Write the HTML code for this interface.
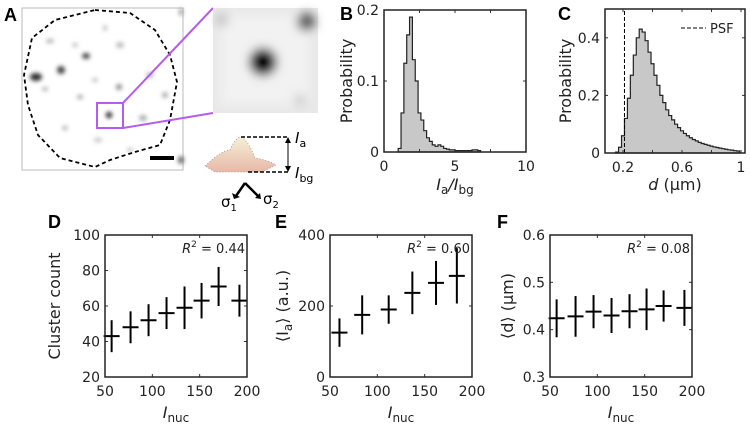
<!DOCTYPE html>
<html><head><meta charset="utf-8"><style>
body{margin:0;background:#fff;}
svg{display:block;font-family:"DejaVu Sans","Liberation Sans",sans-serif;}
</style></head><body>
<svg id="fig" width="750" height="427" viewBox="0 0 750 427" xmlns="http://www.w3.org/2000/svg">
<defs>
<filter id="blur2" x="-50%" y="-50%" width="200%" height="200%"><feGaussianBlur stdDeviation="2"/></filter>
<filter id="blur5" x="-50%" y="-50%" width="200%" height="200%"><feGaussianBlur stdDeviation="5"/></filter>
<linearGradient id="surf" x1="0" y1="0" x2="0" y2="1"><stop offset="0" stop-color="#f4f0d8"/><stop offset="1" stop-color="#e8b8a8"/></linearGradient>
</defs>
<g>
<text x="4" y="21" font-size="18" font-weight="bold" font-family="Liberation Sans">A</text>
<rect x="22" y="8" width="161" height="162" fill="#fff" stroke="#bbb" stroke-width="1"/>
<g filter="url(#blur2)" fill="#555">
<ellipse cx="36" cy="77" rx="6" ry="4" fill="#333"/><ellipse cx="61" cy="70" rx="4" ry="4" fill="#444"/>
<ellipse cx="86" cy="56" rx="4" ry="3" fill="#444"/><ellipse cx="109" cy="115" rx="3" ry="3" fill="#111"/>
<ellipse cx="50" cy="41" rx="4" ry="2" fill="#aaa"/><ellipse cx="80" cy="97" rx="3" ry="2" fill="#999"/>
<ellipse cx="119" cy="87" rx="3" ry="3" fill="#888"/><ellipse cx="45" cy="89" rx="3" ry="2" fill="#aaa"/>
<ellipse cx="65" cy="128" rx="3" ry="2" fill="#aaa"/><ellipse cx="143" cy="118" rx="4" ry="3" fill="#aaa"/>
<ellipse cx="165" cy="95" rx="3" ry="3" fill="#aaa"/><ellipse cx="105" cy="28" rx="2" ry="3" fill="#bbb"/>
<ellipse cx="120" cy="45" rx="4" ry="3" fill="#bbb"/><ellipse cx="98" cy="140" rx="4" ry="2" fill="#bbb"/>
<ellipse cx="150" cy="75" rx="4" ry="3" fill="#bbb"/><ellipse cx="75" cy="45" rx="3" ry="2" fill="#bbb"/>
<ellipse cx="130" cy="150" rx="3" ry="2" fill="#bbb"/><ellipse cx="181" cy="160" rx="3" ry="4" fill="#666"/>
<ellipse cx="181" cy="12" rx="2" ry="4" fill="#999"/><ellipse cx="95" cy="80" rx="3" ry="2" fill="#bbb"/>
</g>
<path d="M95 10 L130 13 L155 30 L170 55 L177 82 L170 120 L160 145 L135 152 L110 160 L95 167 L60 158 L38 135 L28 105 L24 75 L32 38 L55 20 Z" fill="none" stroke="#000" stroke-width="1.8" stroke-dasharray="4,3"/>
<rect x="150" y="156" width="24" height="4" fill="#000"/>
<rect x="97" y="103" width="26" height="25" fill="none" stroke="#b45cf0" stroke-width="2"/>
<line x1="123" y1="103" x2="213" y2="8" stroke="#b45cf0" stroke-width="2"/>
<line x1="123" y1="128" x2="213" y2="113" stroke="#b45cf0" stroke-width="2"/>
<g>
<rect x="213" y="8" width="105" height="105" fill="#e8e8e8"/>
<g filter="url(#blur5)"><rect x="220" y="15" width="90" height="90" fill="#f2f2f2"/>
<circle cx="263" cy="62" r="14" fill="#000"/><circle cx="306" cy="22" r="9" fill="#555"/><circle cx="222" cy="20" r="6" fill="#bbb"/><circle cx="300" cy="100" r="6" fill="#ccc"/></g>
</g>
<g>
<path d="M205 166 Q222 150 230 150 Q236 137 241 137 Q248 140 255 158 Q268 160 276 165 L262 172 L215 172 Z" fill="url(#surf)" stroke="#a88" stroke-width="0.8" stroke-dasharray="1,2"/>
<line x1="241" y1="137" x2="288" y2="137" stroke="#000" stroke-width="1.5" stroke-dasharray="4,2"/>
<line x1="248" y1="172" x2="288" y2="172" stroke="#000" stroke-width="1.5" stroke-dasharray="4,2"/>
<line x1="288" y1="140" x2="288" y2="169" stroke="#000" stroke-width="1"/>
<path d="M285 143 L288 137 L291 143 Z M285 166 L288 172 L291 166 Z" fill="#000"/>
<text x="295" y="143" font-size="15" font-style="italic">I<tspan font-size="11" dy="4" font-style="normal">a</tspan></text>
<text x="295" y="178" font-size="15" font-style="italic">I<tspan font-size="11" dy="4" font-style="normal">bg</tspan></text>
<path d="M245 183 L236 196 M245 183 L258 196" stroke="#000" stroke-width="2.5" fill="none"/>
<path d="M232 193 L234 199 L240 197 Z M255 198 L261 199 L260 193 Z" fill="#000"/>
<text x="221" y="207" font-size="15">σ<tspan font-size="10" dy="4">1</tspan></text>
<text x="263" y="204" font-size="15">σ<tspan font-size="10" dy="4">2</tspan></text>
</g>
</g>
<g id="charts"></g>
</svg>
<script>
const bEdges = [1.0,1.2,1.4,1.6,1.8,2.0,2.2,2.4,2.6,2.8,3.0,3.2,3.4,3.6,3.8,4.0,4.2,4.4,4.6,4.8,5.0,5.4,5.8,6.2,6.6];
const bProb  = [0.005,0.055,0.125,0.165,0.19,0.13,0.10,0.055,0.045,0.03,0.02,0.015,0.01,0.008,0.01,0.008,0.005,0.004,0.003,0.003,0.002,0.002,0.002,0.003,0.002];
const bBinW = 0.2;
const cCenters = [0.16,0.18,0.20,0.22,0.24,0.26,0.28,0.30,0.32,0.34,0.36,0.38,0.40,0.42,0.44,0.46,0.48,0.50,0.52,0.54,0.56,0.58,0.60,0.62,0.64,0.66,0.68,0.70,0.72,0.74,0.76,0.78,0.80,0.82,0.84,0.86,0.88,0.90,0.92,0.94,0.96,0.98];
const cProb = [0.003,0.02,0.06,0.12,0.19,0.27,0.34,0.40,0.43,0.42,0.39,0.35,0.31,0.27,0.235,0.20,0.175,0.15,0.13,0.115,0.10,0.088,0.077,0.068,0.06,0.053,0.047,0.042,0.037,0.033,0.03,0.027,0.024,0.021,0.019,0.017,0.015,0.013,0.011,0.01,0.008,0.007];
const psfValue = 0.21;
const dX = [57,77,96,115,134,152,170,192];
const dY = [43,48,52,56,59,63,71,63];
const dErr = [9,9,9,9,12,10,11,9];
const eX = [60,84,112,137,162,184];
const eY = [125,175,190,237,265,285];
const eErr = [40,55,40,60,62,78];
const fX = [57,77,96,115,134,152,170,192];
const fY = [0.424,0.428,0.438,0.430,0.439,0.443,0.450,0.446];
const fErr = [0.040,0.043,0.035,0.037,0.036,0.044,0.033,0.038];
const bTicksX=[0,5,10], bTicksY=[0,0.1,0.2], bTickLabY=['0','0.1','0.2'];
const cTicksX=[0.2,0.6,1], cTicksY=[0,0.2,0.4], cTickLabX=['0.2','0.6','1'], cTickLabY=['0','0.2','0.4'];
const nucTicks=[50,100,150,200];
const dTicksY=[20,40,60,80,100], eTicksY=[0,200,400], fTicksY=[0.3,0.4,0.5,0.6];

const NS='http://www.w3.org/2000/svg';
const root=document.getElementById('charts');
function el(tag,attrs,parent){const e=document.createElementNS(NS,tag);for(const k in attrs)e.setAttribute(k,attrs[k]);(parent||root).appendChild(e);return e;}
function txt(x,y,s,size,anchor,parent,extra){const t=el('text',Object.assign({x:x,y:y,'font-size':size,'text-anchor':anchor||'middle',fill:'#222'},extra||{}),parent);t.textContent=s;return t;}

function axes(name,L,R,T,B,xmin,xmax,ymin,ymax,xt,yt,xl,yl,minorX){
  const g=el('g',{});
  
  
  const sx=v=>L+(v-xmin)/(xmax-xmin)*(R-L), sy=v=>B-(v-ymin)/(ymax-ymin)*(B-T);
  el('rect',{x:L,y:T,width:R-L,height:B-T,fill:'#fff',stroke:'none'},g);
  return {g,sx,sy,finish(){
    const a=el('g',{},g);
    
    
    const tk=(minorX||xt);
    tk.forEach(v=>{const x=sx(v);el('line',{x1:x,y1:B,x2:x,y2:B-3,stroke:'#333'},a);el('line',{x1:x,y1:T,x2:x,y2:T+3,stroke:'#333'},a);});
    yt.forEach(v=>{const y=sy(v);el('line',{x1:L,y1:y,x2:L+3,y2:y,stroke:'#333'},a);el('line',{x1:R,y1:y,x2:R-3,y2:y,stroke:'#333'},a);});
    xt.forEach((v,i)=>txt(sx(v),B+19,xl[i],14,'middle',a));
    yt.forEach((v,i)=>txt(L-5,sy(v)+5,yl[i],14,'end',a));
    el('rect',{x:L,y:T,width:R-L,height:B-T,fill:'none',stroke:'#222','stroke-width':1.5},a);
  }};
}
function ylabel(x,y,parts,g){const t=el('text',{x:0,y:0,'font-size':16,'text-anchor':'middle',fill:'#222',transform:`translate(${x},${y}) rotate(-90)`},g);t.innerHTML=parts;return t;}
function xlabelNuc(cx,y,g){const t=el('text',{x:cx,y:y,'font-size':16,'text-anchor':'middle',fill:'#222'},g);t.innerHTML='<tspan font-style="italic">I</tspan><tspan font-size="12" dy="4">nuc</tspan>';return t;}
function panelLetter(x,y,s){const t=txt(x,y,s,18,'start',null,{'font-weight':'bold',fill:'#000','font-family':'Liberation Sans'});}

panelLetter(340,20,'B');
let P=axes('histogram-intensity-ratio',384,526,10,152,0,10,0,0.2,bTicksX,bTicksY,['0','5','10'],bTickLabY,[0,2.5,5,7.5,10]);
{let d='M'+P.sx(bEdges[0])+' '+P.sy(0);
 bEdges.forEach((e,i)=>{const w=(i<bEdges.length-1)?bEdges[i+1]-e:bBinW;d+=` L${P.sx(e)} ${P.sy(bProb[i])} L${P.sx(e+w)} ${P.sy(bProb[i])}`;});
 d+=` L${P.sx(bEdges[bEdges.length-1]+bBinW)} ${P.sy(0)} Z`;
 const h=el('path',{d:d,fill:'#c8c8c8',stroke:'#222','stroke-width':1.2},P.g);
 
 }
P.finish();
ylabel(352,81,'Probability',P.g);
{const t=el('text',{x:455,y:190,'font-size':16,'text-anchor':'middle',fill:'#222'},P.g);t.innerHTML='<tspan font-style="italic">I</tspan><tspan font-size="12" dy="4">a</tspan><tspan dy="-4" font-style="italic">/I</tspan><tspan font-size="12" dy="4">bg</tspan>';}

panelLetter(558,20,'C');
P=axes('histogram-cluster-size',605,745,9,153,0.078,1.027,0,0.5,cTicksX,cTicksY,cTickLabX,cTickLabY,[0.2,0.4,0.6,0.8,1]);
{const w=0.02;let d='M'+P.sx(cCenters[0]-w/2)+' '+P.sy(0);
 cCenters.forEach((c,i)=>{d+=` L${P.sx(c-w/2)} ${P.sy(cProb[i])} L${P.sx(c+w/2)} ${P.sy(cProb[i])}`;});
 d+=` L${P.sx(cCenters[cCenters.length-1]+w/2)} ${P.sy(0)} Z`;
 const h=el('path',{d:d,fill:'#c8c8c8',stroke:'#222','stroke-width':1.2},P.g);
 
 
 const ps=el('line',{x1:P.sx(psfValue),y1:P.sy(0),x2:P.sx(psfValue),y2:P.sy(0.5),stroke:'#000','stroke-width':1,'stroke-dasharray':'4,2'},P.g);
 
 
 const lg=el('g',{},P.g);
 
 
 el('line',{x1:681,y1:28,x2:706,y2:28,stroke:'#000','stroke-dasharray':'4,2'},lg);
 txt(710,33,'PSF',13,'start',lg);}
P.finish();
ylabel(571,81,'Probability',P.g);
{const t=el('text',{x:675,y:190,'font-size':16,'text-anchor':'middle',fill:'#222'},P.g);t.innerHTML='<tspan font-style="italic">d</tspan> (µm)';}

function errPlot(name,L,R,xs,ys,es,ymin,ymax,yt,yl,hw){
  P=axes(name,L,R,235,377,50,200,ymin,ymax,nucTicks,yt,nucTicks.map(String),yl);
  xs.forEach((x,i)=>{const m=el('g',{},P.g);
    
    
    el('line',{x1:P.sx(x),y1:P.sy(ys[i]-es[i]),x2:P.sx(x),y2:P.sy(ys[i]+es[i]),stroke:'#000','stroke-width':2},m);
    el('line',{x1:P.sx(x)-hw,y1:P.sy(ys[i]),x2:P.sx(x)+hw,y2:P.sy(ys[i]),stroke:'#000','stroke-width':2},m);});
  P.finish();
  return P;
}
panelLetter(48,228,'D');
P=errPlot('cluster-count-chart',105,247,dX,dY,dErr,20,100,dTicksY,dTicksY.map(String),8);
txt(245,253,'',13,'end',P.g).innerHTML='<tspan font-style="italic">R</tspan><tspan font-size="9" dy="-6">2</tspan><tspan dy="6"> = 0.44</tspan>';
ylabel(60,306,'Cluster count',P.g);
xlabelNuc(176,418,P.g);

panelLetter(275,228,'E');
P=errPlot('intensity-chart',330,472,eX,eY,eErr,0,400,eTicksY,eTicksY.map(String),8);
txt(470,253,'',13,'end',P.g).innerHTML='<tspan font-style="italic">R</tspan><tspan font-size="9" dy="-6">2</tspan><tspan dy="6"> = 0.60</tspan>';
ylabel(288,306,'⟨I<tspan font-size="12" dy="4">a</tspan><tspan dy="-4">⟩ (a.u.)</tspan>',P.g);
xlabelNuc(401,418,P.g);

panelLetter(497,228,'F');
P=errPlot('size-chart',550,692,fX,fY,fErr,0.3,0.6,fTicksY,['0.3','0.4','0.5','0.6'],8);
txt(690,253,'',13,'end',P.g).innerHTML='<tspan font-style="italic">R</tspan><tspan font-size="9" dy="-6">2</tspan><tspan dy="6"> = 0.08</tspan>';
ylabel(513,306,'⟨d⟩ (µm)',P.g);
xlabelNuc(621,418,P.g);
</script>
</body></html>
